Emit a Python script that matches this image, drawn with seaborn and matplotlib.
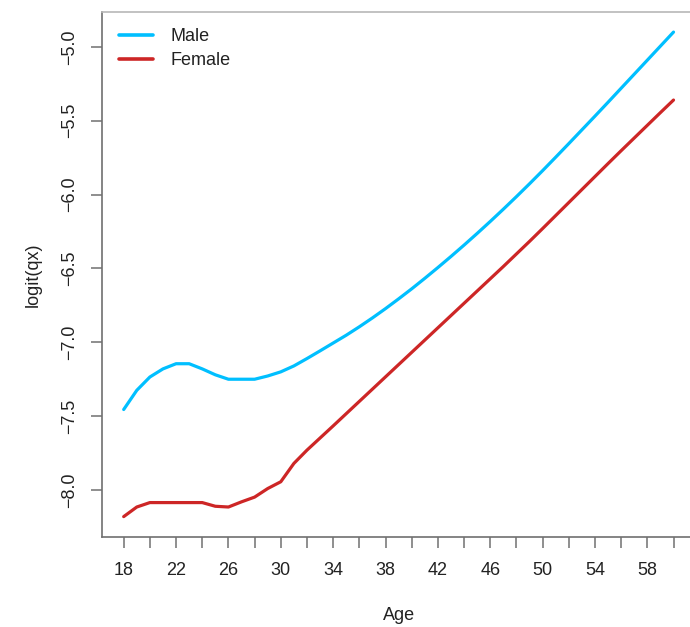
import numpy as np
import pandas as pd
import matplotlib
matplotlib.use("Agg")
import matplotlib.pyplot as plt
import seaborn as sns

ages = list(range(18, 61))
male = [-7.455, -7.325, -7.235, -7.18, -7.145, -7.145, -7.18, -7.22, -7.25, -7.25,
        -7.25, -7.228, -7.20, -7.16, -7.11, -7.058, -7.005, -6.952, -6.895, -6.835,
        -6.772, -6.706, -6.638, -6.567, -6.494, -6.419, -6.342, -6.263, -6.182, -6.099,
        -6.014, -5.927, -5.838, -5.747, -5.655, -5.562, -5.469, -5.375, -5.28, -5.185,
        -5.09, -4.995, -4.90]
female = [-8.18, -8.115, -8.085, -8.085, -8.085, -8.085, -8.085, -8.11, -8.115, -8.08,
          -8.048, -7.99, -7.944, -7.82, -7.73, -7.648, -7.566, -7.483, -7.40, -7.317,
          -7.234, -7.151, -7.068, -6.985, -6.902, -6.819, -6.736, -6.653, -6.57, -6.487,
          -6.402, -6.317, -6.23, -6.142, -6.054, -5.966, -5.878, -5.79, -5.703, -5.617,
          -5.531, -5.445, -5.36]
series_names = ["Male", "Female"]
colors = ["#00BFFF", "#CD2626"]
x_ticks = list(range(18, 61, 2))
x_labels = [str(a) if (a - 18) % 4 == 0 else "" for a in x_ticks]
y_ticks = [-8.0, -7.5, -7.0, -6.5, -6.0, -5.5, -5.0]
y_labels = ["\u22128.0", "\u22127.5", "\u22127.0", "\u22126.5", "\u22126.0", "\u22125.5", "\u22125.0"]

df = pd.DataFrame({
    "Age": ages * 2,
    "logit(qx)": male + female,
    "Sex": [series_names[0]] * len(ages) + [series_names[1]] * len(ages),
})

sns.set_style("white")
plt.rcParams["font.family"] = ["Liberation Sans", "DejaVu Sans"]

W, H = 690, 627
fig = plt.figure(figsize=(W / 100, H / 100), dpi=100)
left, right, top, bottom = 101.7, 695.5, 12.0, 537.0
ax = fig.add_axes([left / W, 1 - bottom / H, (right - left) / W, (bottom - top) / H])

sns.lineplot(data=df, x="Age", y="logit(qx)", hue="Sex", palette=colors,
             linewidth=2.3, ax=ax, legend=True)

ax.set_xlim(16.32, 61.68)
ax.set_ylim(-8.318, -4.764)
ax.set_xticks(x_ticks)
ax.set_xticklabels(x_labels)
ax.set_yticks(y_ticks)
ax.set_yticklabels(y_labels, rotation=90, va="center")

for s in ["left", "bottom"]:
    ax.spines[s].set_color("#707070")
    ax.spines[s].set_linewidth(1.2)
ax.spines["top"].set_color("#b8b8b8")
ax.spines["top"].set_linewidth(1.2)
ax.spines["right"].set_color("#707070")

ax.tick_params(axis="both", which="both", direction="out", length=8, width=1.1,
               color="#707070", labelsize=13, labelcolor="#222222")
ax.tick_params(axis="x", pad=10, bottom=True)
ax.tick_params(axis="y", pad=9, left=True)

ax.set_xlabel("Age", fontsize=13, color="#222222", labelpad=20)
ax.set_ylabel("logit(qx)", fontsize=13, color="#222222", labelpad=14)

leg = ax.legend(loc="upper left", bbox_to_anchor=(0.005, 0.997), frameon=False,
                fontsize=13, handlelength=1.9, handletextpad=0.95,
                labelspacing=0.4, borderaxespad=0.5, borderpad=0.3)
for line in leg.get_lines():
    line.set_linewidth(2.6)
for t in leg.get_texts():
    t.set_color("#222222")

fig.savefig("out.png", dpi=100)
